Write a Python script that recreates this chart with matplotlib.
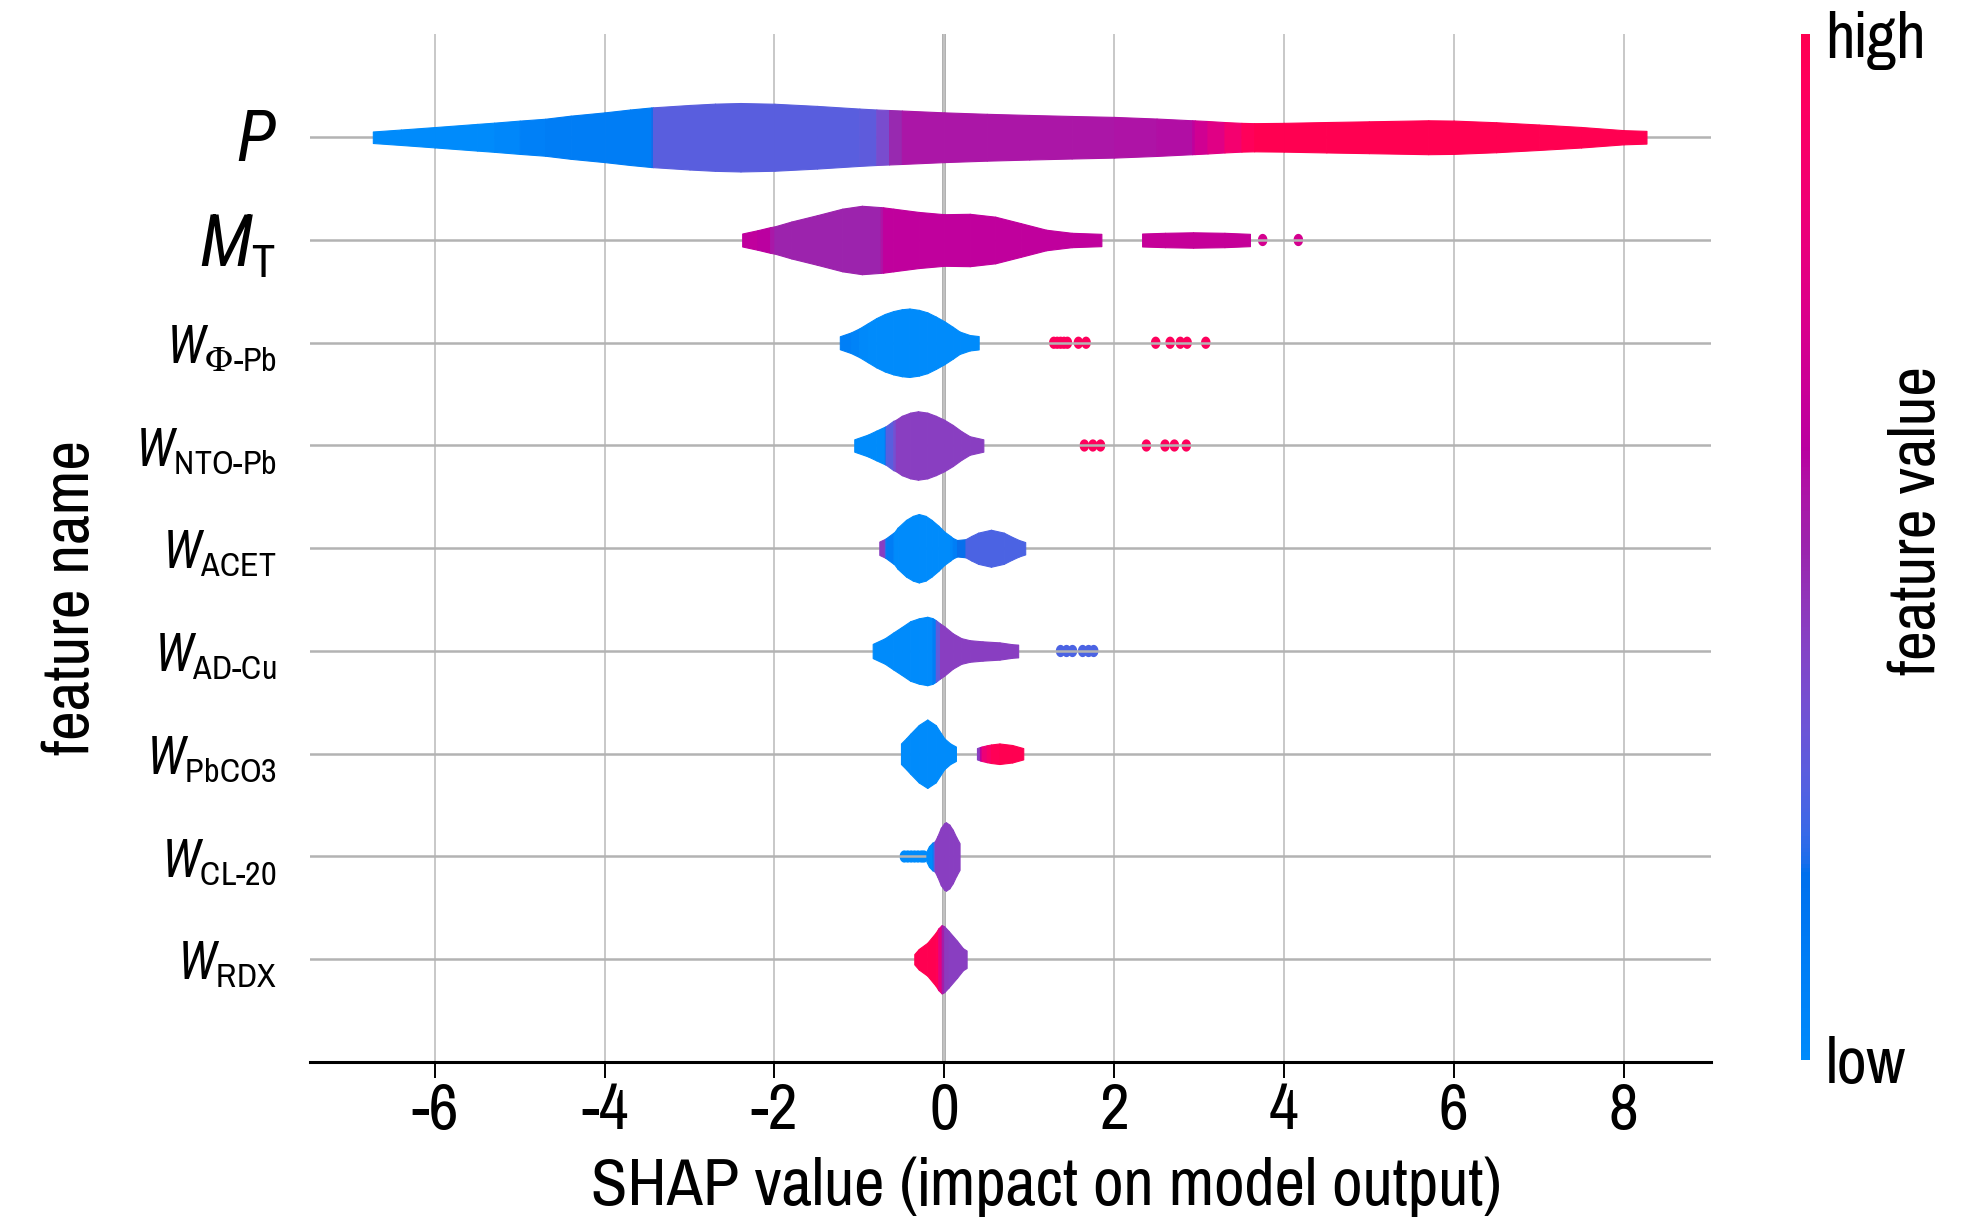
import numpy as np
import matplotlib
matplotlib.use("Agg")
import matplotlib.pyplot as plt
from matplotlib import font_manager as fm
from matplotlib.colors import LinearSegmentedColormap, Normalize
from matplotlib.path import Path
import matplotlib.cm as mcm

# ---------------- data ----------------
feature_labels = [r"$P$", r"$M_{\text{T}}$", r"$W_{\text{Φ-Pb}}$", r"$W_{\text{NTO-Pb}}$",
                  r"$W_{\text{ACET}}$", r"$W_{\text{AD-Cu}}$", r"$W_{\text{PbCO3}}$",
                  r"$W_{\text{CL-20}}$", r"$W_{\text{RDX}}$"]
x_ticks = [-6, -4, -2, 0, 2, 4, 6, 8]
x_tick_labels = ["-6", "-4", "-2", "0", "2", "4", "6", "8"]

# violin profiles: x (SHAP value), half width, smoothed feature value (0=low, 1=high)
P_x = [-6.73, -6.4, -6.0, -5.5, -5.3, -5.0, -4.7, -4.4, -4.0, -3.7, -3.45, -3.43, -3.0, -2.7, -2.4,
       -2.0, -1.5, -1.0, -0.8, -0.65, -0.5, 0.0, 0.5, 1.0, 1.5, 2.0, 2.5, 2.92, 2.95, 3.1, 3.3, 3.5,
       3.65, 4.0, 4.5, 5.0, 5.7, 6.0, 6.5, 7.0, 7.5, 8.0, 8.27]
P_hw = [0.056, 0.075, 0.099, 0.13, 0.142, 0.162, 0.18, 0.21, 0.242, 0.27, 0.29, 0.291, 0.314, 0.327,
        0.333, 0.326, 0.305, 0.279, 0.27, 0.265, 0.26, 0.242, 0.228, 0.217, 0.207, 0.198, 0.182, 0.165,
        0.164, 0.158, 0.148, 0.14, 0.137, 0.14, 0.148, 0.155, 0.165, 0.162, 0.146, 0.124, 0.1, 0.069, 0.062]
P_c = [0.0, 0.0, 0.0, 0.0, 0.0, 0.05, 0.1, 0.1, 0.1, 0.1, 0.1, 0.28, 0.28, 0.28, 0.28,
       0.28, 0.28, 0.28, 0.3, 0.42, 0.55, 0.55, 0.55, 0.55, 0.55, 0.55, 0.56, 0.58, 0.66, 0.7, 0.8, 0.92,
       1.0, 1.0, 1.0, 1.0, 1.0, 1.0, 1.0, 1.0, 1.0, 1.0, 1.0]

MT_x = [-2.38, -2.2, -2.05, -2.0, -1.8, -1.5, -1.2, -0.97, -0.75, -0.72, -0.6, -0.3, 0.0, 0.3, 0.6,
        0.9, 1.2, 1.5, 1.85]
MT_hw = [0.063, 0.095, 0.125, 0.132, 0.18, 0.241, 0.305, 0.333, 0.32, 0.318, 0.305, 0.273, 0.251,
         0.255, 0.227, 0.164, 0.1, 0.07, 0.06]
MT_c = [0.62, 0.62, 0.58, 0.5, 0.5, 0.5, 0.5, 0.5, 0.5, 0.62, 0.62, 0.62, 0.62, 0.62, 0.62,
        0.62, 0.62, 0.62, 0.62]
MT2_x = [2.33, 2.6, 2.93, 3.3, 3.6]
MT2_hw = [0.063, 0.07, 0.075, 0.07, 0.06]
MT2_c = [0.64, 0.64, 0.64, 0.64, 0.64]

WPHI_x = [-1.23, -1.1, -1.0, -0.9, -0.8, -0.7, -0.6, -0.5, -0.41, -0.3, -0.2, -0.1, 0.0, 0.1, 0.18,
          0.3, 0.405]
WPHI_hw = [0.063, 0.1, 0.14, 0.19, 0.24, 0.28, 0.308, 0.326, 0.333, 0.32, 0.296, 0.255, 0.209, 0.155,
           0.109, 0.075, 0.065]
WPHI_c = [0.08, 0.08, 0.03, 0.0, 0.0, 0.0, 0.0, 0.0, 0.0, 0.0, 0.0, 0.0, 0.0, 0.0, 0.0, 0.0, 0.0]

NTO_x = [-1.06, -0.9, -0.8, -0.7, -0.69, -0.6, -0.57, -0.5, -0.4, -0.31, -0.2, -0.1, 0.0, 0.1, 0.2,
         0.3, 0.46]
NTO_hw = [0.06, 0.106, 0.145, 0.183, 0.186, 0.24, 0.25, 0.289, 0.32, 0.333, 0.32, 0.289, 0.25, 0.2,
          0.14, 0.09, 0.06]
NTO_c = [0.0, 0.0, 0.0, 0.0, 0.28, 0.28, 0.42, 0.42, 0.42, 0.42, 0.42, 0.42, 0.42, 0.42, 0.42,
         0.42, 0.42]

ACET_x = [-0.765, -0.70, -0.69, -0.6, -0.59, -0.55, -0.45, -0.37, -0.3, -0.22, -0.15, -0.07, 0.0,
          0.07, 0.1, 0.15, 0.25, 0.32, 0.4, 0.55, 0.7, 0.8, 0.88, 0.953]
ACET_hw = [0.065, 0.09, 0.095, 0.15, 0.155, 0.2, 0.276, 0.315, 0.333, 0.315, 0.276, 0.22, 0.162,
           0.12, 0.1, 0.08, 0.088, 0.12, 0.152, 0.18, 0.152, 0.11, 0.08, 0.06]
ACET_c = [0.42, 0.42, 0.1, 0.1, 0.0, 0.0, 0.0, 0.0, 0.0, 0.0, 0.0, 0.0, 0.0,
          0.0, 0.06, 0.12, 0.25, 0.25, 0.25, 0.25, 0.25, 0.25, 0.25, 0.25]

ADCU_x = [-0.843, -0.7, -0.6, -0.5, -0.4, -0.3, -0.2, -0.14, -0.1, -0.05, 0.0, 0.1, 0.2, 0.3, 0.45,
          0.65, 0.8, 0.87]
ADCU_hw = [0.069, 0.124, 0.18, 0.234, 0.29, 0.318, 0.333, 0.32, 0.3, 0.268, 0.24, 0.172, 0.125,
           0.105, 0.094, 0.084, 0.066, 0.062]
ADCU_c = [0.0, 0.0, 0.0, 0.0, 0.0, 0.0, 0.0, 0.0, 0.18, 0.42, 0.42, 0.42, 0.42, 0.42, 0.42,
          0.42, 0.42, 0.42]

PBCO3_x = [-0.51, -0.45, -0.4, -0.3, -0.2, -0.1, 0.0, 0.07, 0.137]
PBCO3_hw = [0.1, 0.15, 0.195, 0.28, 0.333, 0.278, 0.15, 0.1, 0.07]
PBCO3_c = [0.0, 0.0, 0.0, 0.0, 0.0, 0.0, 0.0, 0.0, 0.0]
PBCO32_x = [0.385, 0.42, 0.44, 0.5, 0.55, 0.65, 0.8, 0.93]
PBCO32_hw = [0.055, 0.065, 0.07, 0.082, 0.09, 0.1, 0.085, 0.055]
PBCO32_c = [0.42, 0.42, 0.8, 0.85, 0.95, 1.0, 1.0, 1.0]

CL20_x = [-0.21, -0.18, -0.14, -0.125, -0.11, -0.08, -0.04, 0.0, 0.02, 0.06, 0.1, 0.14, 0.18]
CL20_hw = [0.05, 0.1, 0.135, 0.14, 0.15, 0.2, 0.28, 0.325, 0.333, 0.31, 0.26, 0.19, 0.13]
CL20_c = [0.0, 0.0, 0.0, 0.15, 0.42, 0.42, 0.42, 0.42, 0.42, 0.42, 0.42, 0.42, 0.42]

RDX_x = [-0.353, -0.3, -0.2, -0.1, -0.07, -0.03, 0.0, 0.05, 0.15, 0.22, 0.263]
RDX_hw = [0.05, 0.1, 0.16, 0.26, 0.3, 0.333, 0.32, 0.276, 0.18, 0.107, 0.085]
RDX_c = [1.0, 1.0, 1.0, 1.0, 0.95, 0.6, 0.44, 0.42, 0.42, 0.42, 0.42]

# isolated points (drawn as dots): x and feature value
MT_dots_x = [3.75, 4.17]
MT_dots_c = [0.7, 0.7]
WPHI_dots_x = [1.29, 1.33, 1.37, 1.41, 1.45, 1.58, 1.67, 2.49, 2.66, 2.78, 2.86, 3.08]
WPHI_dots_c = [0.95] * 12
NTO_dots_x = [1.65, 1.75, 1.84, 2.38, 2.60, 2.71, 2.85]
NTO_dots_c = [0.95] * 7
ADCU_dots_x = [1.37, 1.44, 1.51, 1.63, 1.70, 1.76]
ADCU_dots_c = [0.25] * 6
CL20_dots_x = [-0.47, -0.43, -0.39, -0.35, -0.31, -0.27, -0.24]
CL20_dots_c = [0.0] * 7

# ---------------- colour map (shap red_blue, built in LCh space) ----------------
def lch_to_rgb(L, C, h):
    a = C * np.cos(h)
    b = C * np.sin(h)
    fy = (L + 16.0) / 116.0
    fx = fy + a / 500.0
    fz = fy - b / 200.0
    def finv(t):
        return np.where(t > 6 / 29, t ** 3, 3 * (6 / 29) ** 2 * (t - 4 / 29))
    X = 0.95047 * finv(fx)
    Y = 1.00000 * finv(fy)
    Z = 1.08883 * finv(fz)
    r = 3.2406 * X - 1.5372 * Y - 0.4986 * Z
    g = -0.9689 * X + 1.8758 * Y + 0.0415 * Z
    bb = 0.0557 * X - 0.2040 * Y + 1.0570 * Z
    rgb = np.array([r, g, bb])
    rgb = np.where(rgb <= 0.0031308, 12.92 * rgb, 1.055 * np.abs(rgb) ** (1 / 2.4) - 0.055)
    return np.clip(rgb, 0, 1)

nsteps = 100
l_vals = list(np.linspace(54.0, 40.0, nsteps // 2)) + list(np.linspace(40.0, 54.0, nsteps // 2))
c_vals = np.linspace(70.0, 90.0, nsteps)
h_vals = np.linspace(4.6588, 0.35470565 + 2 * np.pi, nsteps)
cm_colors = [lch_to_rgb(l, c, h) for l, c, h in zip(l_vals, c_vals, h_vals)]
red_blue = LinearSegmentedColormap.from_list("red_blue", cm_colors)

# ---------------- fonts ----------------
names = {f.name for f in fm.fontManager.ttflist}
def first_font(cands, default):
    for c in cands:
        if c in names:
            return c
    return default
FONT = first_font(["Liberation Sans Narrow", "Arial Narrow", "Pragati Narrow", "Roboto Condensed"],
                  "Liberation Sans")
IFONT = first_font(["Liberation Sans Narrow", "Arial Narrow", "Roboto Condensed"], FONT)
plt.rcParams["font.family"] = [FONT, "DejaVu Sans"]
plt.rcParams["mathtext.fontset"] = "custom"
plt.rcParams["mathtext.rm"] = FONT
plt.rcParams["mathtext.it"] = IFONT + ":italic"
plt.rcParams["mathtext.bf"] = FONT + ":bold"
plt.rcParams["axes.unicode_minus"] = False

# ---------------- figure ----------------
fig = plt.figure(figsize=(19.84, 12.28), dpi=100)
ax = fig.add_axes([0.15625, 0.13518, 0.70615, 0.83673])

n = len(feature_labels)
pos_of = {i: n - 1 - i for i in range(n)}

pieces = [
    (0, P_x, P_hw, P_c),
    (1, MT_x, MT_hw, MT_c), (1, MT2_x, MT2_hw, MT2_c),
    (2, WPHI_x, WPHI_hw, WPHI_c),
    (3, NTO_x, NTO_hw, NTO_c),
    (4, ACET_x, ACET_hw, ACET_c),
    (5, ADCU_x, ADCU_hw, ADCU_c),
    (6, PBCO3_x, PBCO3_hw, PBCO3_c), (6, PBCO32_x, PBCO32_hw, PBCO32_c),
    (7, CL20_x, CL20_hw, CL20_c),
    (8, RDX_x, RDX_hw, RDX_c),
]
dots = [
    (1, MT_dots_x, MT_dots_c), (2, WPHI_dots_x, WPHI_dots_c), (3, NTO_dots_x, NTO_dots_c),
    (5, ADCU_dots_x, ADCU_dots_c), (7, CL20_dots_x, CL20_dots_c),
]

theta = np.linspace(0, 2 * np.pi, 41)
ell = Path(np.column_stack([0.78 * np.cos(theta), np.sin(theta)]), closed=True)

for fi, xs, cs in dots:
    y = pos_of[fi]
    ax.scatter(xs, [y] * len(xs), c=cs, cmap=red_blue, vmin=0, vmax=1, s=78, marker=ell,
               linewidths=0, zorder=1)

for fi, xs, hw, cv in pieces:
    y = pos_of[fi]
    for i in range(len(xs) - 1):
        col = red_blue(0.5 * (cv[i] + cv[i + 1]))
        ax.fill_between([xs[i], xs[i + 1]], [y + hw[i], y + hw[i + 1]], [y - hw[i], y - hw[i + 1]],
                        color=col, linewidth=0.8, zorder=3)

for i in range(n):
    ax.axhline(pos_of[i], color="#b3b3b3", lw=1.8, zorder=2)
ax.axvline(0, color="#a6a6a6", lw=2.7, zorder=0.5)

ax.set_xlim(-7.47, 9.03)
ax.set_ylim(-1, n)
ax.set_xticks(x_ticks)
ax.set_xticklabels(x_tick_labels)
ax.grid(axis="x", color="#c4c4c4", lw=1.3, zorder=0)
ax.set_axisbelow(True)

ax.set_yticks([pos_of[i] for i in range(n)])
ax.set_yticklabels(feature_labels)
for i, t in enumerate(ax.get_yticklabels()):
    t.set_fontsize(52 if pos_of[i] >= n - 2 else 38)
ax.tick_params(axis="y", length=0, pad=24)
ax.tick_params(axis="x", length=11.5, width=1.4, color="black", labelsize=51, pad=3)

for s in ["top", "left", "right"]:
    ax.spines[s].set_visible(False)
ax.spines["bottom"].set_linewidth(2.2)
ax.spines["bottom"].set_color("black")

fig.text(0.5273, 0.0187, "SHAP value (impact on model output)", fontsize=52,
         ha="center", va="baseline")
fig.text(0.0358, 0.5138, "feature name", fontsize=51, rotation=90, ha="center", va="center")

# colour bar
cax = fig.add_axes([1800.5 / 1984, 0.13681, 9.5 / 1984, 0.8351])
sm = mcm.ScalarMappable(norm=Normalize(0, 1), cmap=red_blue)
cb = fig.colorbar(sm, cax=cax, ticks=[0, 1])
cb.set_ticklabels(["low", "high"])
cb.outline.set_visible(False)
cax.tick_params(length=0, labelsize=51, pad=11)
fig.text(0.966, 0.5765, "feature value", fontsize=51, rotation=90, ha="center", va="center")

fig.savefig("out.png", dpi=100)
